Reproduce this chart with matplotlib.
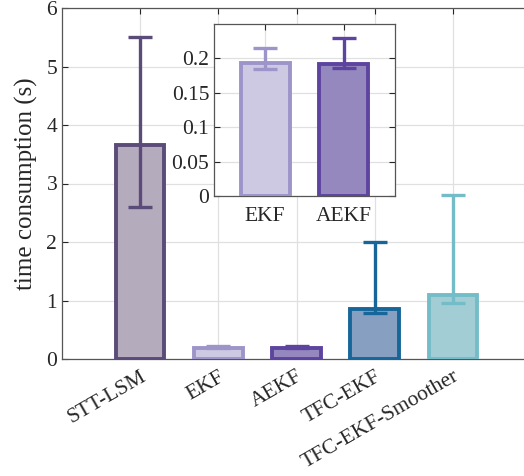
import numpy as np
import matplotlib
matplotlib.use('Agg')
import matplotlib.pyplot as plt

plt.rcParams['font.family'] = ['Liberation Serif', 'DejaVu Serif']
plt.rcParams['mathtext.fontset'] = 'stix'

# mean run time and lower / upper error bar ends (s)
methods = ['STT-LSM', 'EKF', 'AEKF', 'TFC-EKF', 'TFC-EKF-Smoother']
mean_time = [3.66, 0.193, 0.192, 0.855, 1.10]
err_low = [2.60, 0.185, 0.186, 0.785, 0.955]
err_high = [5.50, 0.215, 0.229, 2.00, 2.80]

edge_cols = ['#5b4b78', '#9d94ca', '#5d449e', '#17669a', '#74bdc8']
face_cols = ['#b4abbd', '#cdc9e3', '#9588bf', '#87a0c1', '#a3cdd4']

yticks_main = [0, 1, 2, 3, 4, 5, 6]
yticks_inset = [0, 0.05, 0.1, 0.15, 0.2]
inset_idx = [1, 2]


def draw_bars(ax, idx, xs):
    for k, x in zip(idx, xs):
        ax.bar(x, mean_time[k], width=0.62, color=face_cols[k],
               edgecolor=edge_cols[k], linewidth=2.8, zorder=3)
        lo = mean_time[k] - err_low[k]
        hi = err_high[k] - mean_time[k]
        ax.errorbar(x, mean_time[k], yerr=[[lo], [hi]], fmt='none',
                    ecolor=edge_cols[k], elinewidth=2.4, capsize=8.5,
                    capthick=2.4, zorder=4)


def style_axes(ax):
    ax.grid(True, color='#e0e0e0', linewidth=0.9, zorder=0)
    ax.set_axisbelow(True)
    ax.tick_params(direction='in', length=4, width=0.8, colors='#262626',
                   top=True, right=True, labelsize=15.5)
    for sp in ax.spines.values():
        sp.set_color('#555555')
        sp.set_linewidth(0.9)


fig = plt.figure(figsize=(5.24, 4.76), dpi=100)

ax = fig.add_axes([62 / 524, 117 / 476, 469 / 524, 351 / 476])
xpos = np.arange(1, len(methods) + 1)
draw_bars(ax, range(len(methods)), xpos)
style_axes(ax)
ax.set_xlim(0, 6)
ax.set_ylim(0, 6)
ax.set_yticks(yticks_main)
ax.set_xticks(xpos)
ax.set_xticklabels(methods, rotation=30, ha='right', rotation_mode='anchor',
                   fontsize=15.5)
ax.tick_params(axis='x', pad=6)
ax.set_ylabel('time consumption (s)', fontsize=18, color='#262626',
              labelpad=6)

# zoomed view of the two filter variants
axin = fig.add_axes([214 / 524, 280 / 476, 181 / 524, 172 / 476])
draw_bars(axin, inset_idx, [1, 2])
style_axes(axin)
axin.set_xlim(0.35, 2.65)
axin.set_ylim(0, 0.25)
axin.set_yticks(yticks_inset)
axin.set_yticklabels(['0', '0.05', '0.1', '0.15', '0.2'])
axin.set_xticks([1, 2])
axin.set_xticklabels([methods[k] for k in inset_idx], fontsize=15.5)
axin.tick_params(axis='x', pad=8)

fig.savefig('out.png', dpi=100)
